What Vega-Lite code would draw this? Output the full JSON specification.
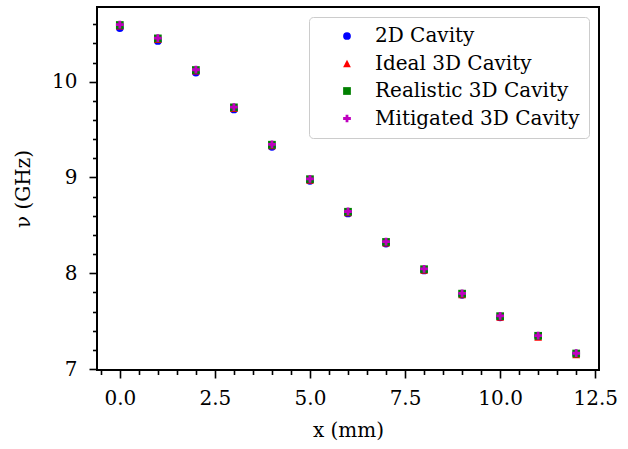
{
  "$schema": "https://vega.github.io/schema/vega-lite/v6.json",
  "width": 502,
  "height": 363,
  "autosize": {"type": "none"},
  "padding": {"left": 97, "top": 7, "right": 29, "bottom": 79},
  "background": "white",
  "config": {
    "view": {"stroke": "black", "strokeWidth": 2},
    "font": "DejaVu Serif",
    "axis": {
      "labelFont": "DejaVu Serif",
      "labelFontSize": 20,
      "labelColor": "black",
      "titleFont": "DejaVu Serif",
      "titleFontSize": 20,
      "titleFontWeight": "normal",
      "titleColor": "black",
      "tickColor": "black",
      "tickWidth": 1.6,
      "domain": false,
      "grid": false,
      "labelOverlap": false,
      "labelFlush": false
    },
    "legend": {
      "labelFont": "DejaVu Serif",
      "labelFontSize": 20,
      "labelColor": "black",
      "labelLimit": 0,
      "orient": "top-right",
      "offset": 10,
      "padding": 9,
      "fillColor": "rgba(255,255,255,0.8)",
      "strokeColor": "#cccccc",
      "cornerRadius": 4,
      "symbolSize": 60,
      "symbolStrokeWidth": 0,
      "symbolOffset": 19,
      "labelOffset": 18,
      "rowPadding": 7.5
    }
  },
  "data": {
    "values": [
      {"x": 0, "nu": 10.56, "series": "2D Cavity"},
      {"x": 1, "nu": 10.425, "series": "2D Cavity"},
      {"x": 2, "nu": 10.095, "series": "2D Cavity"},
      {"x": 3, "nu": 9.71, "series": "2D Cavity"},
      {"x": 4, "nu": 9.32, "series": "2D Cavity"},
      {"x": 5, "nu": 8.965, "series": "2D Cavity"},
      {"x": 6, "nu": 8.625, "series": "2D Cavity"},
      {"x": 7, "nu": 8.31, "series": "2D Cavity"},
      {"x": 8, "nu": 8.03, "series": "2D Cavity"},
      {"x": 9, "nu": 7.775, "series": "2D Cavity"},
      {"x": 10, "nu": 7.54, "series": "2D Cavity"},
      {"x": 11, "nu": 7.345, "series": "2D Cavity"},
      {"x": 12, "nu": 7.16, "series": "2D Cavity"},
      {"x": 0, "nu": 10.583, "series": "Ideal 3D Cavity"},
      {"x": 1, "nu": 10.443, "series": "Ideal 3D Cavity"},
      {"x": 2, "nu": 10.113, "series": "Ideal 3D Cavity"},
      {"x": 3, "nu": 9.723, "series": "Ideal 3D Cavity"},
      {"x": 4, "nu": 9.333, "series": "Ideal 3D Cavity"},
      {"x": 5, "nu": 8.973, "series": "Ideal 3D Cavity"},
      {"x": 6, "nu": 8.633, "series": "Ideal 3D Cavity"},
      {"x": 7, "nu": 8.318, "series": "Ideal 3D Cavity"},
      {"x": 8, "nu": 8.033, "series": "Ideal 3D Cavity"},
      {"x": 9, "nu": 7.778, "series": "Ideal 3D Cavity"},
      {"x": 10, "nu": 7.543, "series": "Ideal 3D Cavity"},
      {"x": 11, "nu": 7.335, "series": "Ideal 3D Cavity"},
      {"x": 12, "nu": 7.15, "series": "Ideal 3D Cavity"},
      {"x": 0, "nu": 10.592, "series": "Realistic 3D Cavity"},
      {"x": 1, "nu": 10.452, "series": "Realistic 3D Cavity"},
      {"x": 2, "nu": 10.122, "series": "Realistic 3D Cavity"},
      {"x": 3, "nu": 9.732, "series": "Realistic 3D Cavity"},
      {"x": 4, "nu": 9.342, "series": "Realistic 3D Cavity"},
      {"x": 5, "nu": 8.982, "series": "Realistic 3D Cavity"},
      {"x": 6, "nu": 8.642, "series": "Realistic 3D Cavity"},
      {"x": 7, "nu": 8.327, "series": "Realistic 3D Cavity"},
      {"x": 8, "nu": 8.042, "series": "Realistic 3D Cavity"},
      {"x": 9, "nu": 7.787, "series": "Realistic 3D Cavity"},
      {"x": 10, "nu": 7.552, "series": "Realistic 3D Cavity"},
      {"x": 11, "nu": 7.347, "series": "Realistic 3D Cavity"},
      {"x": 12, "nu": 7.162, "series": "Realistic 3D Cavity"},
      {"x": 0, "nu": 10.595, "series": "Mitigated 3D Cavity"},
      {"x": 1, "nu": 10.455, "series": "Mitigated 3D Cavity"},
      {"x": 2, "nu": 10.125, "series": "Mitigated 3D Cavity"},
      {"x": 3, "nu": 9.735, "series": "Mitigated 3D Cavity"},
      {"x": 4, "nu": 9.345, "series": "Mitigated 3D Cavity"},
      {"x": 5, "nu": 8.985, "series": "Mitigated 3D Cavity"},
      {"x": 6, "nu": 8.645, "series": "Mitigated 3D Cavity"},
      {"x": 7, "nu": 8.33, "series": "Mitigated 3D Cavity"},
      {"x": 8, "nu": 8.045, "series": "Mitigated 3D Cavity"},
      {"x": 9, "nu": 7.79, "series": "Mitigated 3D Cavity"},
      {"x": 10, "nu": 7.555, "series": "Mitigated 3D Cavity"},
      {"x": 11, "nu": 7.35, "series": "Mitigated 3D Cavity"},
      {"x": 12, "nu": 7.165, "series": "Mitigated 3D Cavity"}
    ]
  },
  "mark": {"type": "point", "filled": true, "opacity": 1, "size": 60, "strokeWidth": 0},
  "encoding": {
    "x": {
      "field": "x",
      "type": "quantitative",
      "scale": {"domain": [-0.6, 12.6], "nice": false, "zero": false},
      "axis": {
        "title": "x (mm)",
        "titlePadding": 12,
        "values": [-0.5, 0, 0.5, 1, 1.5, 2, 2.5, 3, 3.5, 4, 4.5, 5, 5.5, 6, 6.5, 7, 7.5, 8, 8.5, 9, 9.5, 10, 10.5, 11, 11.5, 12, 12.5],
        "labelExpr": "datum.value % 2.5 == 0 ? format(datum.value, '.1f') : ''",
        "labelPadding": 10,
        "tickSize": {"condition": {"test": "datum.value % 2.5 == 0", "value": 8}, "value": 4.5}
      }
    },
    "y": {
      "field": "nu",
      "type": "quantitative",
      "scale": {"domain": [6.99, 10.78], "nice": false, "zero": false},
      "axis": {
        "title": "ν (GHz)",
        "titlePadding": 18,
        "values": [7, 7.2, 7.4, 7.6, 7.8, 8, 8.2, 8.4, 8.6, 8.8, 9, 9.2, 9.4, 9.6, 9.8, 10, 10.2, 10.4, 10.6],
        "labelExpr": "datum.value % 1 == 0 ? format(datum.value, 'd') : ''",
        "labelPadding": 12,
        "tickSize": {"condition": {"test": "datum.value % 1 == 0", "value": 8}, "value": 4.5}
      }
    },
    "color": {
      "field": "series",
      "type": "nominal",
      "scale": {
        "domain": ["2D Cavity", "Ideal 3D Cavity", "Realistic 3D Cavity", "Mitigated 3D Cavity"],
        "range": ["#0000ff", "#ff0000", "#008000", "#bf00bf"]
      },
      "legend": {"title": null}
    },
    "shape": {
      "field": "series",
      "type": "nominal",
      "scale": {
        "domain": ["2D Cavity", "Ideal 3D Cavity", "Realistic 3D Cavity", "Mitigated 3D Cavity"],
        "range": ["circle", "M 0,-0.95 L 1,0.95 L -1,0.95 Z", "square", "M -0.36,-1 L 0.36,-1 L 0.36,-0.36 L 1,-0.36 L 1,0.36 L 0.36,0.36 L 0.36,1 L -0.36,1 L -0.36,0.36 L -1,0.36 L -1,-0.36 L -0.36,-0.36 Z"]
      },
      "legend": {"title": null}
    }
  }
}
